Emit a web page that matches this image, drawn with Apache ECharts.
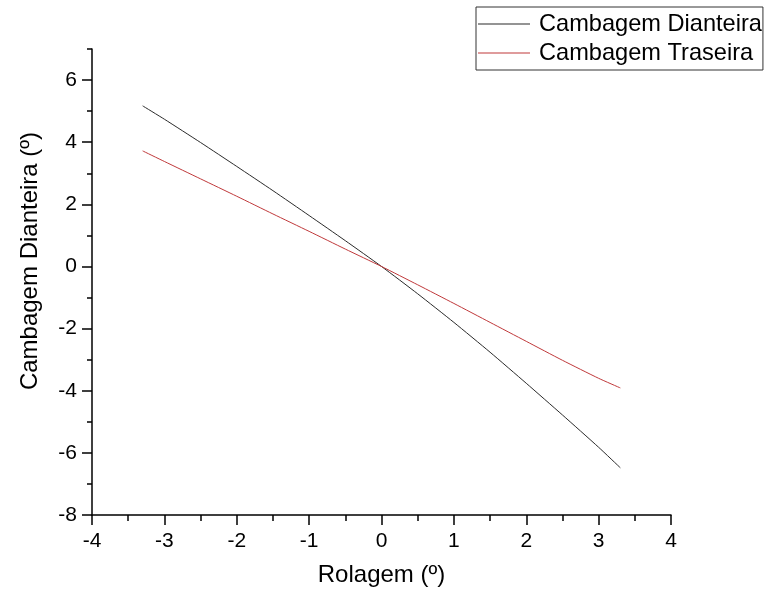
<!DOCTYPE html>
<html>
<head>
<meta charset="utf-8">
<script src="https://cdn.jsdelivr.net/npm/echarts@6/dist/echarts.min.js"></script>
<style>html,body{margin:0;padding:0;background:#fff}#c{width:773px;height:597px}</style>
</head>
<body>
<div id="c"></div>
<script>
const rolagem = [-3.3, -3, -2.5, -2, -1.5, -1, -0.5, 0, 0.5, 1, 1.5, 2, 2.5, 3, 3.3];
const cambDianteira = [5.17, 4.74, 3.99, 3.22, 2.44, 1.64, 0.83, 0, -0.88, -1.8, -2.76, -3.76, -4.78, -5.82, -6.48];
const cambTraseira = [3.72, 3.38, 2.82, 2.26, 1.69, 1.13, 0.56, 0, -0.59, -1.19, -1.8, -2.41, -3.02, -3.6, -3.91];
const seriesNames = ['Cambagem Dianteira', 'Cambagem Traseira'];
const xTicks = [-4, -3, -2, -1, 0, 1, 2, 3, 4];
const yTicks = [-8, -6, -4, -2, 0, 2, 4, 6];
const xTitle = 'Rolagem (º)';
const yTitle = 'Cambagem Dianteira (º)';

const font = 'Liberation Sans, Arial, sans-serif';
const colors = ['#2a2a2a', '#c0393b'];
const chart = echarts.init(document.getElementById('c'), null, {renderer: 'canvas'});
const pair = (xs, ys) => xs.map((x, i) => [x, ys[i]]);
chart.setOption({
  animation: false,
  backgroundColor: '#fff',
  grid: {left: 92, right: 102, top: 49, bottom: 82, containLabel: false},
  legend: {
    orient: 'vertical', left: 476, top: 7,
    data: seriesNames.map((n, i) => ({name: n, icon: 'rect', itemStyle: {color: colors[i]}})),
    borderColor: '#333', borderWidth: 1, borderRadius: 0,
    padding: [4, 1, 4, 2],
    itemWidth: 52, itemHeight: 1.2, itemGap: 3,
    textStyle: {fontFamily: font, fontSize: 23.6, color: '#000', lineHeight: 26, padding: [0, 0, 0, 4]}
  },
  xAxis: {
    type: 'value', min: -4, max: 4, interval: 1,
    name: xTitle, nameLocation: 'middle', nameGap: 48,
    nameTextStyle: {fontFamily: font, fontSize: 24, color: '#000'},
    axisLine: {show: true, onZero: false, lineStyle: {color: '#000', width: 1.5}},
    axisTick: {show: true, inside: false, length: 10, lineStyle: {color: '#000', width: 1.5}, customValues: xTicks},
    minorTick: {show: true, splitNumber: 2, length: 6, lineStyle: {color: '#000', width: 1.5}},
    axisLabel: {fontFamily: font, fontSize: 21, color: '#000', margin: 16, customValues: xTicks},
    splitLine: {show: false}
  },
  yAxis: [{
    type: 'value', min: -8, max: 7, interval: 2,
    name: yTitle, nameLocation: 'middle', nameGap: 50,
    nameTextStyle: {fontFamily: font, fontSize: 24, color: '#000', padding: [0, 0, 0, 42]},
    axisLine: {show: true, onZero: false, lineStyle: {color: '#000', width: 1.5}},
    axisTick: {show: true, inside: false, length: 10, lineStyle: {color: '#000', width: 1.5}, customValues: yTicks},
    axisLabel: {fontFamily: font, fontSize: 21, color: '#000', margin: 15, customValues: yTicks},
    splitLine: {show: false}
  }, {
    type: 'value', min: -8, max: 7, interval: 1, position: 'left',
    axisLine: {show: false, onZero: false},
    axisTick: {show: true, inside: false, length: 5, lineStyle: {color: '#000', width: 1.5}},
    axisLabel: {show: false},
    splitLine: {show: false}
  }],
  series: [{
    name: seriesNames[0], type: 'line', yAxisIndex: 0,
    data: pair(rolagem, cambDianteira),
    symbol: 'none', smooth: 0.2,
    lineStyle: {color: colors[0], width: 1},
    itemStyle: {color: colors[0]}
  }, {
    name: seriesNames[1], type: 'line', yAxisIndex: 0,
    data: pair(rolagem, cambTraseira),
    symbol: 'none', smooth: 0.2,
    lineStyle: {color: colors[1], width: 1},
    itemStyle: {color: colors[1]}
  }]
});
</script>
</body>
</html>
